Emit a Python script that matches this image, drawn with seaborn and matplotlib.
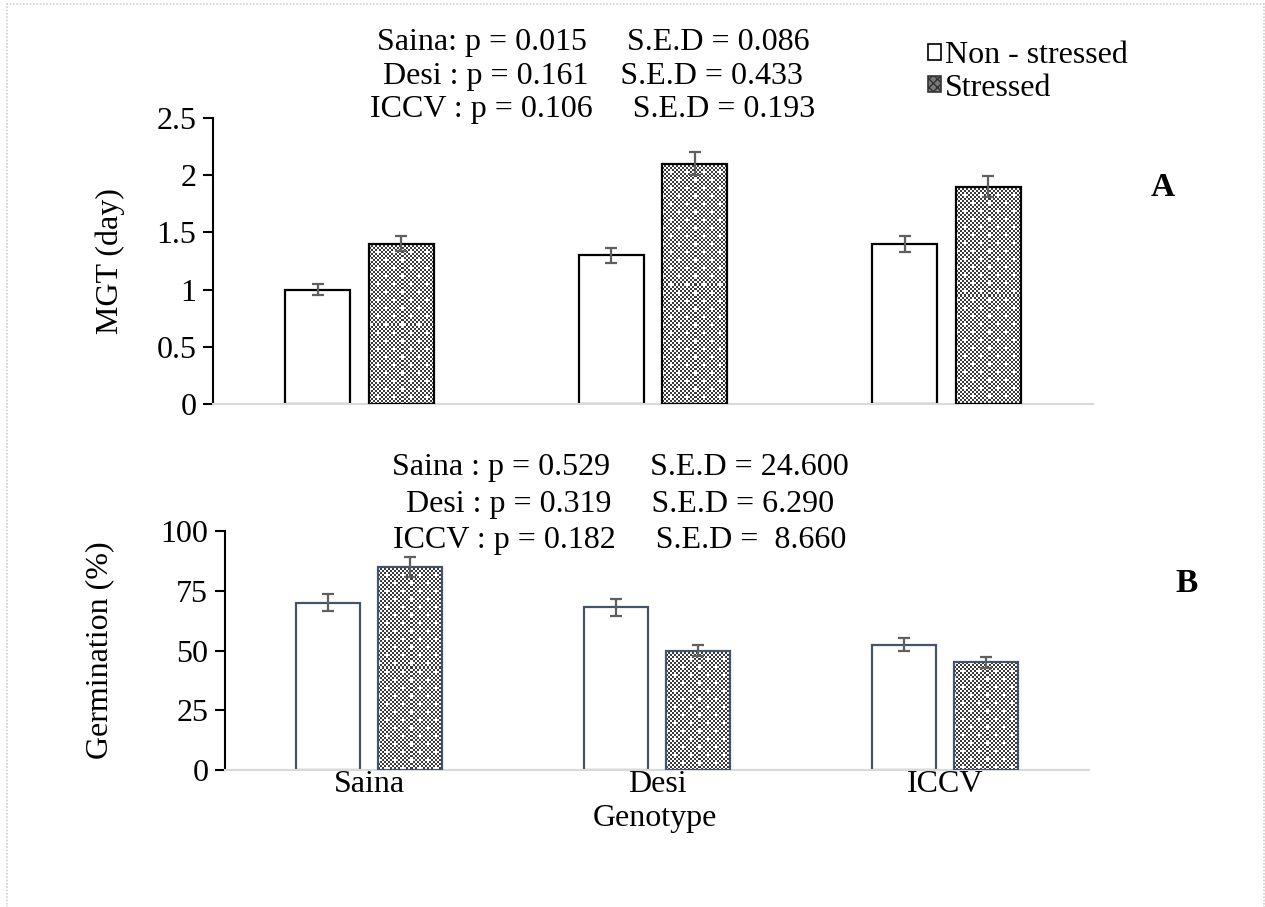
import numpy as np
import pandas as pd
import matplotlib
matplotlib.use("Agg")
import matplotlib.pyplot as plt
from matplotlib.patches import Rectangle, Patch
import seaborn as sns

# ---- data ----
genotypes = ["Saina", "Desi", "ICCV"]
treatments = ["Non - stressed", "Stressed"]

mgt_non = [1.00, 1.30, 1.40]
mgt_str = [1.40, 2.10, 1.90]
mgt_err_non = [0.045, 0.065, 0.07]
mgt_err_str = [0.065, 0.10, 0.09]

germ_non = [70.0, 68.0, 52.5]
germ_str = [85.0, 50.0, 45.0]
germ_err_non = [3.5, 3.5, 2.8]
germ_err_str = [4.2, 2.5, 2.3]

stats_a = ["Saina: p = 0.015     S.E.D = 0.086",
           "Desi : p = 0.161    S.E.D = 0.433",
           "ICCV : p = 0.106     S.E.D = 0.193"]
stats_b = ["Saina : p = 0.529     S.E.D = 24.600",
           "Desi : p = 0.319     S.E.D = 6.290",
           "ICCV : p = 0.182     S.E.D =  8.660"]

W, H = 1265, 907
sns.set_theme(style="white")
plt.rcParams["font.family"] = ["Liberation Serif", "DejaVu Serif"]
plt.rcParams["text.color"] = "black"
plt.rcParams["axes.labelcolor"] = "black"
plt.rcParams["xtick.color"] = "black"
plt.rcParams["ytick.color"] = "black"
FS = 23

fig = plt.figure(figsize=(W / 100, H / 100), dpi=100)


def fx(px):
    return px / W


def fy(py):
    return 1 - py / H


def checker(h, w):
    # fine dotted-grid fill: 2 px checkerboard with sparse white spots
    yy, xx = np.mgrid[0:h, 0:w]
    ci, cj = yy // 2, xx // 2
    dark = (ci + cj) % 2 == 0
    spot = ((ci % 8 == 0) & (cj % 8 == 0)) | ((ci % 8 == 4) & (cj % 8 == 4))
    dark &= ~spot
    return np.where(dark, 0.24, 1.0)


def panel(rect_px, non, stres, err_non, err_str, ylim, yticks, edge, show_x):
    l, t, r, b = rect_px
    ax = fig.add_axes([fx(l), fy(b), fx(r) - fx(l), fy(t) - fy(b)])
    df = pd.DataFrame({
        "Genotype": genotypes * 2,
        "Treatment": [treatments[0]] * 3 + [treatments[1]] * 3,
        "value": list(non) + list(stres),
    })
    sns.barplot(data=df, x="Genotype", y="value", hue="Treatment",
                palette=["white", "white"], edgecolor=edge, linewidth=1.6,
                width=0.57, gap=0.22, errorbar=None, legend=False, ax=ax,
                zorder=2)
    ax.set_xlim(-0.5, 2.5)
    ax.set_ylim(*ylim)

    errs = [err_non, err_str]
    bar_groups = list(ax.containers)
    for k, cont in enumerate(bar_groups):
        xs = [p.get_x() + p.get_width() / 2 for p in cont.patches]
        ys = [p.get_height() for p in cont.patches]
        ax.errorbar(xs, ys, yerr=errs[k], fmt="none", ecolor="#5f5f5f",
                    elinewidth=1.6, capsize=4.5, capthick=1.6, zorder=6)
        if k == 1:
            for p in cont.patches:
                bb = p.get_window_extent()
                w_px = max(int(round(bb.width)), 1)
                h_px = max(int(round(bb.height)), 1)
                x0 = p.get_x()
                img = ax.imshow(checker(h_px, w_px), cmap="gray", vmin=0, vmax=1,
                                extent=(x0, x0 + p.get_width(), 0, p.get_height()),
                                interpolation="nearest", aspect="auto", zorder=3,
                                origin="upper")
                img.set_clip_path(p)
                p.set_facecolor("none")
                p.set_zorder(4)
    ax.set_xlim(-0.5, 2.5)
    ax.set_ylim(*ylim)
    ax.set_yticks(yticks)
    ax.set_yticklabels([f"{v:g}" for v in yticks], fontsize=FS)
    ax.tick_params(axis="y", direction="out", length=7, width=1.5,
                   color="black", labelcolor="black", pad=5, left=True)
    ax.tick_params(axis="x", length=0, pad=0, labelcolor="black")
    if show_x:
        ax.set_xticks(range(3))
        ax.set_xticklabels(genotypes, fontsize=FS)
    else:
        ax.set_xticks([])
    ax.set_xlabel("")
    ax.set_ylabel("")
    for s in ["top", "right"]:
        ax.spines[s].set_visible(False)
    ax.spines["left"].set_color("black")
    ax.spines["left"].set_linewidth(1.5)
    ax.spines["bottom"].set_color("#d9d9d9")
    ax.spines["bottom"].set_linewidth(1.5)
    ax.set_facecolor("none")
    return ax


ax_a = panel((213, 118, 1093, 404), mgt_non, mgt_str, mgt_err_non, mgt_err_str,
             (0, 2.5), [0, 0.5, 1, 1.5, 2, 2.5], "black", False)
ax_b = panel((225, 531, 1089, 770), germ_non, germ_str, germ_err_non, germ_err_str,
             (0, 100), [0, 25, 50, 75, 100], "#44546a", True)

# axis titles
fig.text(fx(110), fy(261), "MGT (day)", rotation=90, ha="center", va="center", fontsize=FS)
fig.text(fx(100), fy(650), "Germination (%)", rotation=90, ha="center", va="center", fontsize=FS)
fig.text(fx(655), fy(826), "Genotype", ha="center", va="baseline", fontsize=FS)

# statistics annotations
for line, yb in zip(stats_a, [50, 84, 117]):
    fig.text(fx(593), fy(yb), line, ha="center", va="baseline", fontsize=FS)
for line, yb in zip(stats_b, [475, 512, 548]):
    fig.text(fx(620), fy(yb), line, ha="center", va="baseline", fontsize=FS)

# panel letters
fig.text(fx(1163), fy(188), "A", ha="center", va="center", fontsize=FS + 1, fontweight="bold")
fig.text(fx(1187), fy(583), "B", ha="center", va="center", fontsize=FS + 1, fontweight="bold")

# legend
handles = [Patch(facecolor="white", edgecolor="black", linewidth=1.2, label=treatments[0]),
           Patch(facecolor="#7a7a7a", edgecolor="#333333", linewidth=1.2, hatch="xxxx",
                 label=treatments[1])]
fig.legend(handles=handles, loc="upper left", bbox_to_anchor=(fx(928), fy(41)),
           frameon=False, fontsize=FS, handlelength=0.42, handleheight=0.4,
           handletextpad=0.1, labelspacing=0.12, borderaxespad=0, borderpad=0)

# dotted outer frame
fig.patches.append(Rectangle((fx(7), fy(912)), fx(1264) - fx(7), fy(4) - fy(912),
                             transform=fig.transFigure, fill=False,
                             edgecolor="#cfcfcf", linestyle=(0, (1, 1)), linewidth=1.2))

fig.savefig("out.png", dpi=100)
